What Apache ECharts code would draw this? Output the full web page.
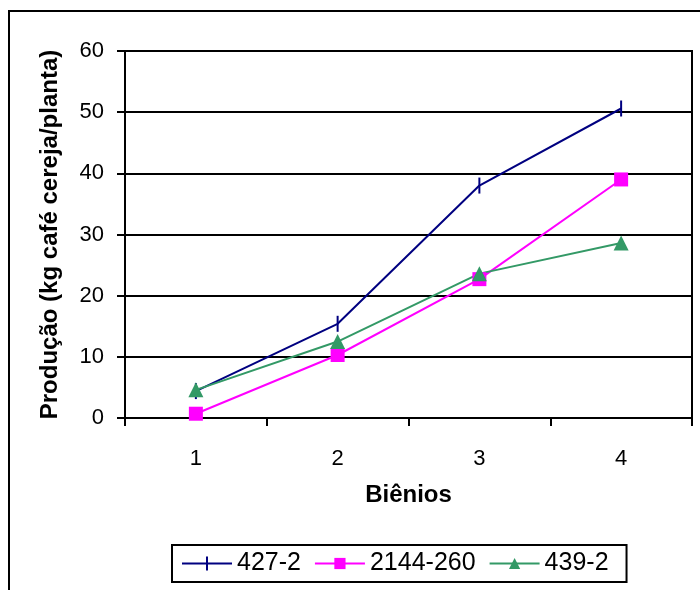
<!DOCTYPE html>
<html>
<head>
<meta charset="utf-8">
<script src="https://cdn.jsdelivr.net/npm/echarts@6/dist/echarts.min.js"></script>
<style>
  html, body { margin: 0; padding: 0; background: #fff; }
  #chart { width: 700px; height: 590px; }
</style>
</head>
<body>
<div id="chart"></div>
<script>
// Biennial coffee yield per plant for three progenies
const bienios = ['1', '2', '3', '4'];
const yTicks = [0, 10, 20, 30, 40, 50, 60];
const serie427 = [4.4, 15.4, 38.0, 50.6];
const serie2144 = [0.7, 10.3, 22.7, 39.0];
const serie439 = [4.6, 12.5, 23.6, 28.6];

const FONT = '"Liberation Sans", Arial, sans-serif';
// legend icon for 427-2: a line crossed by a short vertical dash
const DASH_ICON = 'path://M0,6 L50,6 L50,8 L0,8 Z M24,0 L26,0 L26,14 L24,14 Z';

const chart = echarts.init(document.getElementById('chart'), null, { renderer: 'canvas' });

chart.setOption({
  animation: false,
  backgroundColor: '#ffffff',
  textStyle: { fontFamily: FONT, color: '#000' },
  graphic: [
    {
      type: 'rect',
      shape: { x: 9, y: 11, width: 720, height: 620 },
      style: { fill: 'none', stroke: '#000', lineWidth: 2 },
      silent: true
    }
  ],
  grid: { left: 125, right: 8, top: 51, bottom: 172, show: true, borderColor: '#000', borderWidth: 2, backgroundColor: 'transparent' },
  legend: {
    top: 545,
    left: 172,
    itemWidth: 50,
    itemHeight: 14,
    itemGap: 13,
    padding: [6, 18, 6, 10],
    borderColor: '#000',
    borderWidth: 2,
    textStyle: { fontFamily: FONT, fontSize: 25, color: '#000' },
    data: [
      { name: '427-2', icon: DASH_ICON },
      { name: '2144-260' },
      { name: '439-2' }
    ]
  },
  xAxis: {
    type: 'category',
    data: bienios,
    boundaryGap: true,
    name: 'Biênios',
    nameLocation: 'middle',
    nameGap: 65,
    nameTextStyle: { fontFamily: FONT, fontSize: 24, fontWeight: 'bold', color: '#000' },
    axisLine: { lineStyle: { color: '#000', width: 2 } },
    axisTick: { show: true, length: 8, lineStyle: { color: '#000', width: 2 } },
    axisLabel: { fontFamily: FONT, fontSize: 22, color: '#000', margin: 30 },
    splitLine: { show: false }
  },
  yAxis: {
    type: 'value',
    min: yTicks[0],
    max: yTicks[yTicks.length - 1],
    interval: 10,
    name: 'Produção (kg café cereja/planta)',
    nameLocation: 'middle',
    nameGap: 63,
    nameTextStyle: { fontFamily: FONT, fontSize: 24, fontWeight: 'bold', color: '#000' },
    axisLine: { show: true, lineStyle: { color: '#000', width: 2 } },
    axisTick: { show: true, length: 8, lineStyle: { color: '#000', width: 2 } },
    axisLabel: { fontFamily: FONT, fontSize: 22, color: '#000', margin: 21 },
    splitLine: { show: true, lineStyle: { color: '#000', width: 2 } }
  },
  series: [
    {
      name: '427-2',
      type: 'line',
      data: serie427,
      color: '#000080',
      symbol: 'rect',
      symbolSize: [2, 16],
      lineStyle: { width: 2, color: '#000080' },
      itemStyle: { color: '#000080' }
    },
    {
      name: '2144-260',
      type: 'line',
      data: serie2144,
      color: '#ff00ff',
      symbol: 'rect',
      symbolSize: 14,
      lineStyle: { width: 2, color: '#ff00ff' },
      itemStyle: { color: '#ff00ff' }
    },
    {
      name: '439-2',
      type: 'line',
      data: serie439,
      color: '#339966',
      symbol: 'triangle',
      symbolSize: 15,
      lineStyle: { width: 2, color: '#339966' },
      itemStyle: { color: '#339966' }
    }
  ]
});
</script>
</body>
</html>
